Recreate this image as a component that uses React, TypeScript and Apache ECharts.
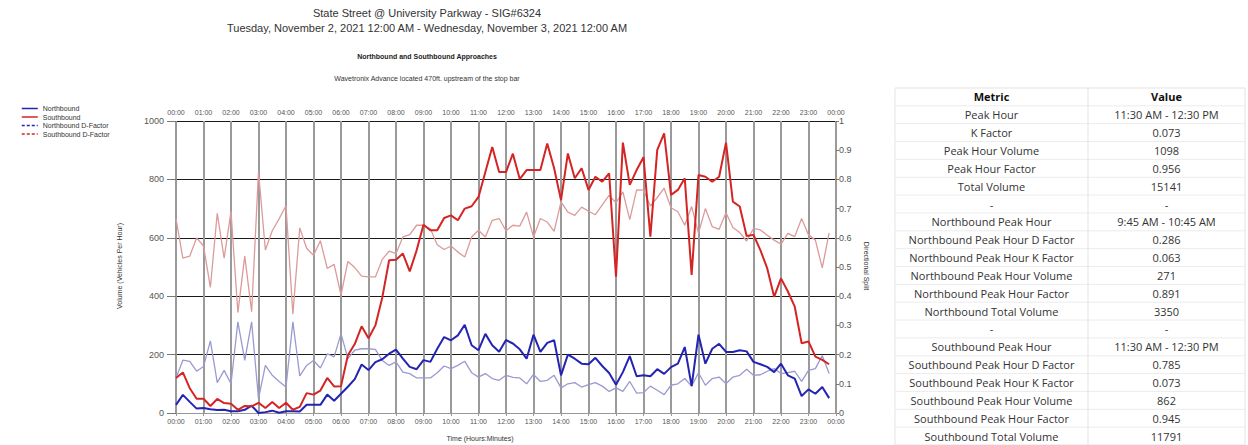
import React, { useEffect, useRef } from "react";
import * as echarts from "echarts";

// ---------- DATA ----------
const hourLabels: string[] = [
  "00:00", "01:00", "02:00", "03:00", "04:00", "05:00", "06:00", "07:00",
  "08:00", "09:00", "10:00", "11:00", "12:00", "13:00", "14:00", "15:00",
  "16:00", "17:00", "18:00", "19:00", "20:00", "21:00", "22:00", "23:00", "00:00",
];
const quarterMinutes: string[] = ["00", "15", "30", "45"];

const northbound: number[] = [
  28, 62, 38, 15, 17, 13, 10, 11, 6, 6, 11, 25, 0, 3, 8, 1,
  6, 6, 5, 28, 28, 28, 63, 42, 66, 90, 116, 166, 147, 174, 184, 203,
  217, 186, 158, 150, 181, 175, 220, 260, 249, 266, 302, 232, 215, 271, 232, 210,
  250, 238, 218, 186, 268, 209, 240, 249, 129, 200, 186, 169, 167, 189, 161, 137,
  97, 140, 195, 126, 129, 126, 150, 134, 157, 169, 226, 92, 268, 169, 220, 237,
  209, 209, 215, 211, 175, 167, 158, 140, 169, 129, 118, 58, 81, 66, 89, 51,
];
const southbound: number[] = [
  120, 139, 85, 49, 49, 24, 48, 34, 32, 11, 24, 23, 35, 17, 38, 17,
  35, 11, 21, 68, 63, 77, 120, 91, 92, 198, 236, 297, 256, 300, 395, 523,
  525, 546, 485, 557, 645, 626, 626, 668, 677, 660, 700, 708, 740, 825, 911, 825,
  825, 888, 801, 832, 832, 832, 923, 838, 729, 889, 804, 838, 764, 809, 792, 821,
  467, 926, 781, 832, 876, 604, 901, 958, 747, 764, 804, 473, 815, 809, 792, 809,
  926, 724, 707, 606, 610, 558, 495, 398, 461, 416, 364, 239, 245, 193, 182, 167,
];
const northboundD: number[] = [
  0.12, 0.181, 0.177, 0.143, 0.159, 0.247, 0.104, 0.146, 0.1, 0.312, 0.18, 0.312, 0.049, 0.163, 0.129, 0.108,
  0.089, 0.312, 0.127, 0.163, 0.18, 0.154, 0.203, 0.192, 0.272, 0.186, 0.215, 0.22, 0.22, 0.218, 0.18, 0.163,
  0.175, 0.14, 0.135, 0.12, 0.12, 0.12, 0.138, 0.161, 0.152, 0.163, 0.177, 0.138, 0.123, 0.135, 0.118, 0.112,
  0.129, 0.122, 0.12, 0.1, 0.132, 0.108, 0.112, 0.129, 0.086, 0.1, 0.104, 0.089, 0.097, 0.104, 0.092, 0.074,
  0.086, 0.074, 0.108, 0.068, 0.07, 0.092, 0.078, 0.063, 0.095, 0.1, 0.118, 0.092, 0.138, 0.095, 0.118, 0.123,
  0.1, 0.123, 0.129, 0.15, 0.129, 0.131, 0.143, 0.152, 0.135, 0.138, 0.143, 0.108, 0.146, 0.152, 0.197, 0.135,
];
const southboundD: number[] = [
  0.666, 0.53, 0.537, 0.6, 0.572, 0.43, 0.684, 0.53, 0.69, 0.344, 0.537, 0.347, 0.826, 0.558, 0.624, 0.665,
  0.71, 0.338, 0.634, 0.564, 0.54, 0.59, 0.495, 0.509, 0.404, 0.519, 0.498, 0.469, 0.466, 0.466, 0.526, 0.554,
  0.546, 0.603, 0.611, 0.643, 0.643, 0.631, 0.576, 0.56, 0.572, 0.551, 0.534, 0.603, 0.626, 0.603, 0.66, 0.666,
  0.624, 0.643, 0.64, 0.688, 0.603, 0.666, 0.654, 0.622, 0.723, 0.688, 0.677, 0.705, 0.691, 0.679, 0.713, 0.745,
  0.72, 0.757, 0.662, 0.764, 0.763, 0.709, 0.738, 0.77, 0.703, 0.689, 0.643, 0.707, 0.615, 0.7, 0.638, 0.629,
  0.686, 0.635, 0.618, 0.589, 0.632, 0.627, 0.609, 0.592, 0.578, 0.615, 0.604, 0.666, 0.61, 0.592, 0.497, 0.617,
];

const tableMetrics: string[] = [
  "Peak Hour", "K Factor", "Peak Hour Volume", "Peak Hour Factor", "Total Volume", "-",
  "Northbound Peak Hour", "Northbound Peak Hour D Factor", "Northbound Peak Hour K Factor",
  "Northbound Peak Hour Volume", "Northbound Peak Hour Factor", "Northbound Total Volume", "-",
  "Southbound Peak Hour", "Southbound Peak Hour D Factor", "Southbound Peak Hour K Factor",
  "Southbound Peak Hour Volume", "Southbound Peak Hour Factor", "Southbound Total Volume",
];
const tableValues: string[] = [
  "11:30 AM - 12:30 PM", "0.073", "1098", "0.956", "15141", "-",
  "9:45 AM - 10:45 AM", "0.286", "0.063", "271", "0.891", "3350", "-",
  "11:30 AM - 12:30 PM", "0.785", "0.073", "862", "0.945", "11791",
];

// categories: every 15 minutes plus closing midnight
const timeSlots: string[] = [];
hourLabels.slice(0, 24).forEach((h) => {
  quarterMinutes.forEach((m) => timeSlots.push(h.slice(0, 3) + m));
});
timeSlots.push(hourLabels[24]);

const FONT = "Liberation Sans, Arial, sans-serif";
const TFONT = "Open Sans, Noto Sans, sans-serif";

const NB_COLOR = "#2323b4";
const SB_COLOR = "#d42424";
const NBD_COLOR = "#9a9ad0";
const SBD_COLOR = "#dc9a9a";

export default function App() {
  const ref = useRef<HTMLDivElement>(null);

  useEffect(() => {
    if (!ref.current) return;
    const chart = echarts.init(ref.current, undefined, { renderer: "svg" });

    const graphics: any[] = [
      { type: "text", x: 427, y: 13, style: { text: "State Street @ University Parkway - SIG#6324", align: "center", verticalAlign: "middle", fontSize: 11, fontFamily: FONT, fill: "#333" } },
      { type: "text", x: 427, y: 28, style: { text: "Tuesday, November 2, 2021 12:00 AM - Wednesday, November 3, 2021 12:00 AM", align: "center", verticalAlign: "middle", fontSize: 11, fontFamily: FONT, fill: "#333" } },
      { type: "text", x: 427, y: 56, style: { text: "Northbound and Southbound Approaches", align: "center", verticalAlign: "middle", fontSize: 7, fontWeight: "bold", fontFamily: FONT, fill: "#222" } },
      { type: "text", x: 427, y: 78, style: { text: "Wavetronix Advance located 470ft. upstream of the stop bar", align: "center", verticalAlign: "middle", fontSize: 7, fontFamily: FONT, fill: "#333" } },
      { type: "text", x: 119, y: 266, rotation: Math.PI / 2, style: { text: "Volume (Vehicles Per Hour)", align: "center", verticalAlign: "middle", fontSize: 7, fontFamily: FONT, fill: "#333" } },
      { type: "text", x: 866, y: 266, rotation: -Math.PI / 2, style: { text: "Directional Split", align: "center", verticalAlign: "middle", fontSize: 7, fontFamily: FONT, fill: "#333" } },
      { type: "text", x: 480, y: 438, style: { text: "Time (Hours:Minutes)", align: "center", verticalAlign: "middle", fontSize: 7, fontFamily: FONT, fill: "#333" } },
    ];

    // table
    const tLeft = 895, tRight = 1245, tMid = 1088, tTop = 88, rowH = 17.85;
    const nRows = tableMetrics.length + 1;
    graphics.push({ type: "rect", shape: { x: tLeft, y: tTop, width: tRight - tLeft, height: rowH * nRows }, style: { fill: "#fff", stroke: "#e3e3e3", lineWidth: 1 } });
    for (let i = 1; i < nRows; i++) {
      graphics.push({ type: "line", shape: { x1: tLeft, y1: tTop + i * rowH, x2: tRight, y2: tTop + i * rowH }, style: { stroke: "#ececec", lineWidth: 1 } });
    }
    graphics.push({ type: "line", shape: { x1: tMid, y1: tTop, x2: tMid, y2: tTop + rowH * nRows }, style: { stroke: "#e3e3e3", lineWidth: 1 } });
    const c1 = (tLeft + tMid) / 2, c2 = (tMid + tRight) / 2;
    graphics.push({ type: "text", x: c1, y: tTop + rowH / 2, style: { text: "Metric", align: "center", verticalAlign: "middle", fontSize: 11, fontWeight: "bold", fontFamily: TFONT, fill: "#111" } });
    graphics.push({ type: "text", x: c2, y: tTop + rowH / 2, style: { text: "Value", align: "center", verticalAlign: "middle", fontSize: 11, fontWeight: "bold", fontFamily: TFONT, fill: "#111" } });
    tableMetrics.forEach((m, i) => {
      const cy = tTop + (i + 1) * rowH + rowH / 2;
      graphics.push({ type: "text", x: c1, y: cy, style: { text: m, align: "center", verticalAlign: "middle", fontSize: 11, fontFamily: TFONT, fill: "#333" } });
      graphics.push({ type: "text", x: c2, y: cy, style: { text: tableValues[i], align: "center", verticalAlign: "middle", fontSize: 11, fontFamily: TFONT, fill: "#333" } });
    });

    const xLabel = { interval: 3, fontSize: 7, color: "#555", fontFamily: FONT, margin: 5 };

    chart.setOption({
      animation: false,
      backgroundColor: "#fff",
      textStyle: { fontFamily: FONT },
      grid: { left: 176, right: 412, top: 121, bottom: 32, containLabel: false },
      legend: {
        orient: "vertical",
        left: 16,
        top: 100,
        itemWidth: 16,
        itemHeight: 7,
        itemGap: 1.5,
        itemStyle: { opacity: 0, borderWidth: 0 },
        textStyle: { fontSize: 7, color: "#333", fontFamily: FONT, lineHeight: 7 },
        data: [
          { name: "Northbound", lineStyle: { color: NB_COLOR, width: 1.5, type: "solid" } },
          { name: "Southbound", lineStyle: { color: SB_COLOR, width: 1.5, type: "solid" } },
          { name: "Northbound D-Factor", lineStyle: { color: NB_COLOR, width: 1.5, type: [3, 2] } },
          { name: "Southbound D-Factor", lineStyle: { color: SB_COLOR, width: 1.5, type: [3, 2] } },
        ],
      },
      xAxis: [
        {
          type: "category",
          data: timeSlots,
          boundaryGap: false,
          position: "bottom",
          axisLine: { show: true, lineStyle: { color: "#999", width: 1 } },
          axisTick: { show: true, interval: 3, length: 3, lineStyle: { color: "#999" } },
          axisLabel: xLabel,
          splitLine: { show: true, interval: 3, lineStyle: { color: "#9a9a9a", width: 2 } },
        },
        {
          type: "category",
          data: timeSlots,
          boundaryGap: false,
          position: "top",
          axisLine: { show: false },
          axisTick: { show: false },
          axisLabel: xLabel,
          splitLine: { show: false },
        },
      ],
      yAxis: [
        {
          type: "value",
          min: 0,
          max: 1000,
          interval: 200,
          position: "left",
          axisLine: { show: false },
          axisTick: { show: true, length: 9, lineStyle: { color: "#777" } },
          axisLabel: { fontSize: 9, color: "#555", fontFamily: FONT, margin: 12, formatter: (v: number) => String(v) },
          splitLine: { show: true, lineStyle: { color: "#1a1a1a", width: 1 } },
        },
        {
          type: "value",
          min: 0,
          max: 1,
          interval: 0.1,
          position: "right",
          axisLine: { show: false },
          axisTick: { show: true, length: 3, lineStyle: { color: "#777" } },
          axisLabel: {
            fontSize: 9,
            color: "#555",
            fontFamily: FONT,
            margin: 3,
            formatter: (v: number) => String(Number(v.toFixed(1))),
          },
          splitLine: { show: false },
        },
      ],
      series: [
        {
          name: "Southbound D-Factor",
          type: "line",
          yAxisIndex: 1,
          data: southboundD,
          symbol: "none",
          lineStyle: { color: SBD_COLOR, width: 1.3, type: "solid" },
          itemStyle: { color: SBD_COLOR },
          z: 2,
        },
        {
          name: "Northbound D-Factor",
          type: "line",
          yAxisIndex: 1,
          data: northboundD,
          symbol: "none",
          lineStyle: { color: NBD_COLOR, width: 1.3, type: "solid" },
          itemStyle: { color: NBD_COLOR },
          z: 2,
        },
        {
          name: "Northbound",
          type: "line",
          data: northbound,
          symbol: "none",
          lineStyle: { color: NB_COLOR, width: 2 },
          itemStyle: { color: NB_COLOR },
          z: 3,
        },
        {
          name: "Southbound",
          type: "line",
          data: southbound,
          symbol: "none",
          lineStyle: { color: SB_COLOR, width: 2 },
          itemStyle: { color: SB_COLOR },
          z: 3,
        },
      ],
      graphic: graphics,
    });

    return () => chart.dispose();
  }, []);

  return (
    <div
      ref={ref}
      style={{ position: "fixed", left: 0, top: 0, width: 1248, height: 445, background: "#fff" }}
    />
  );
}
